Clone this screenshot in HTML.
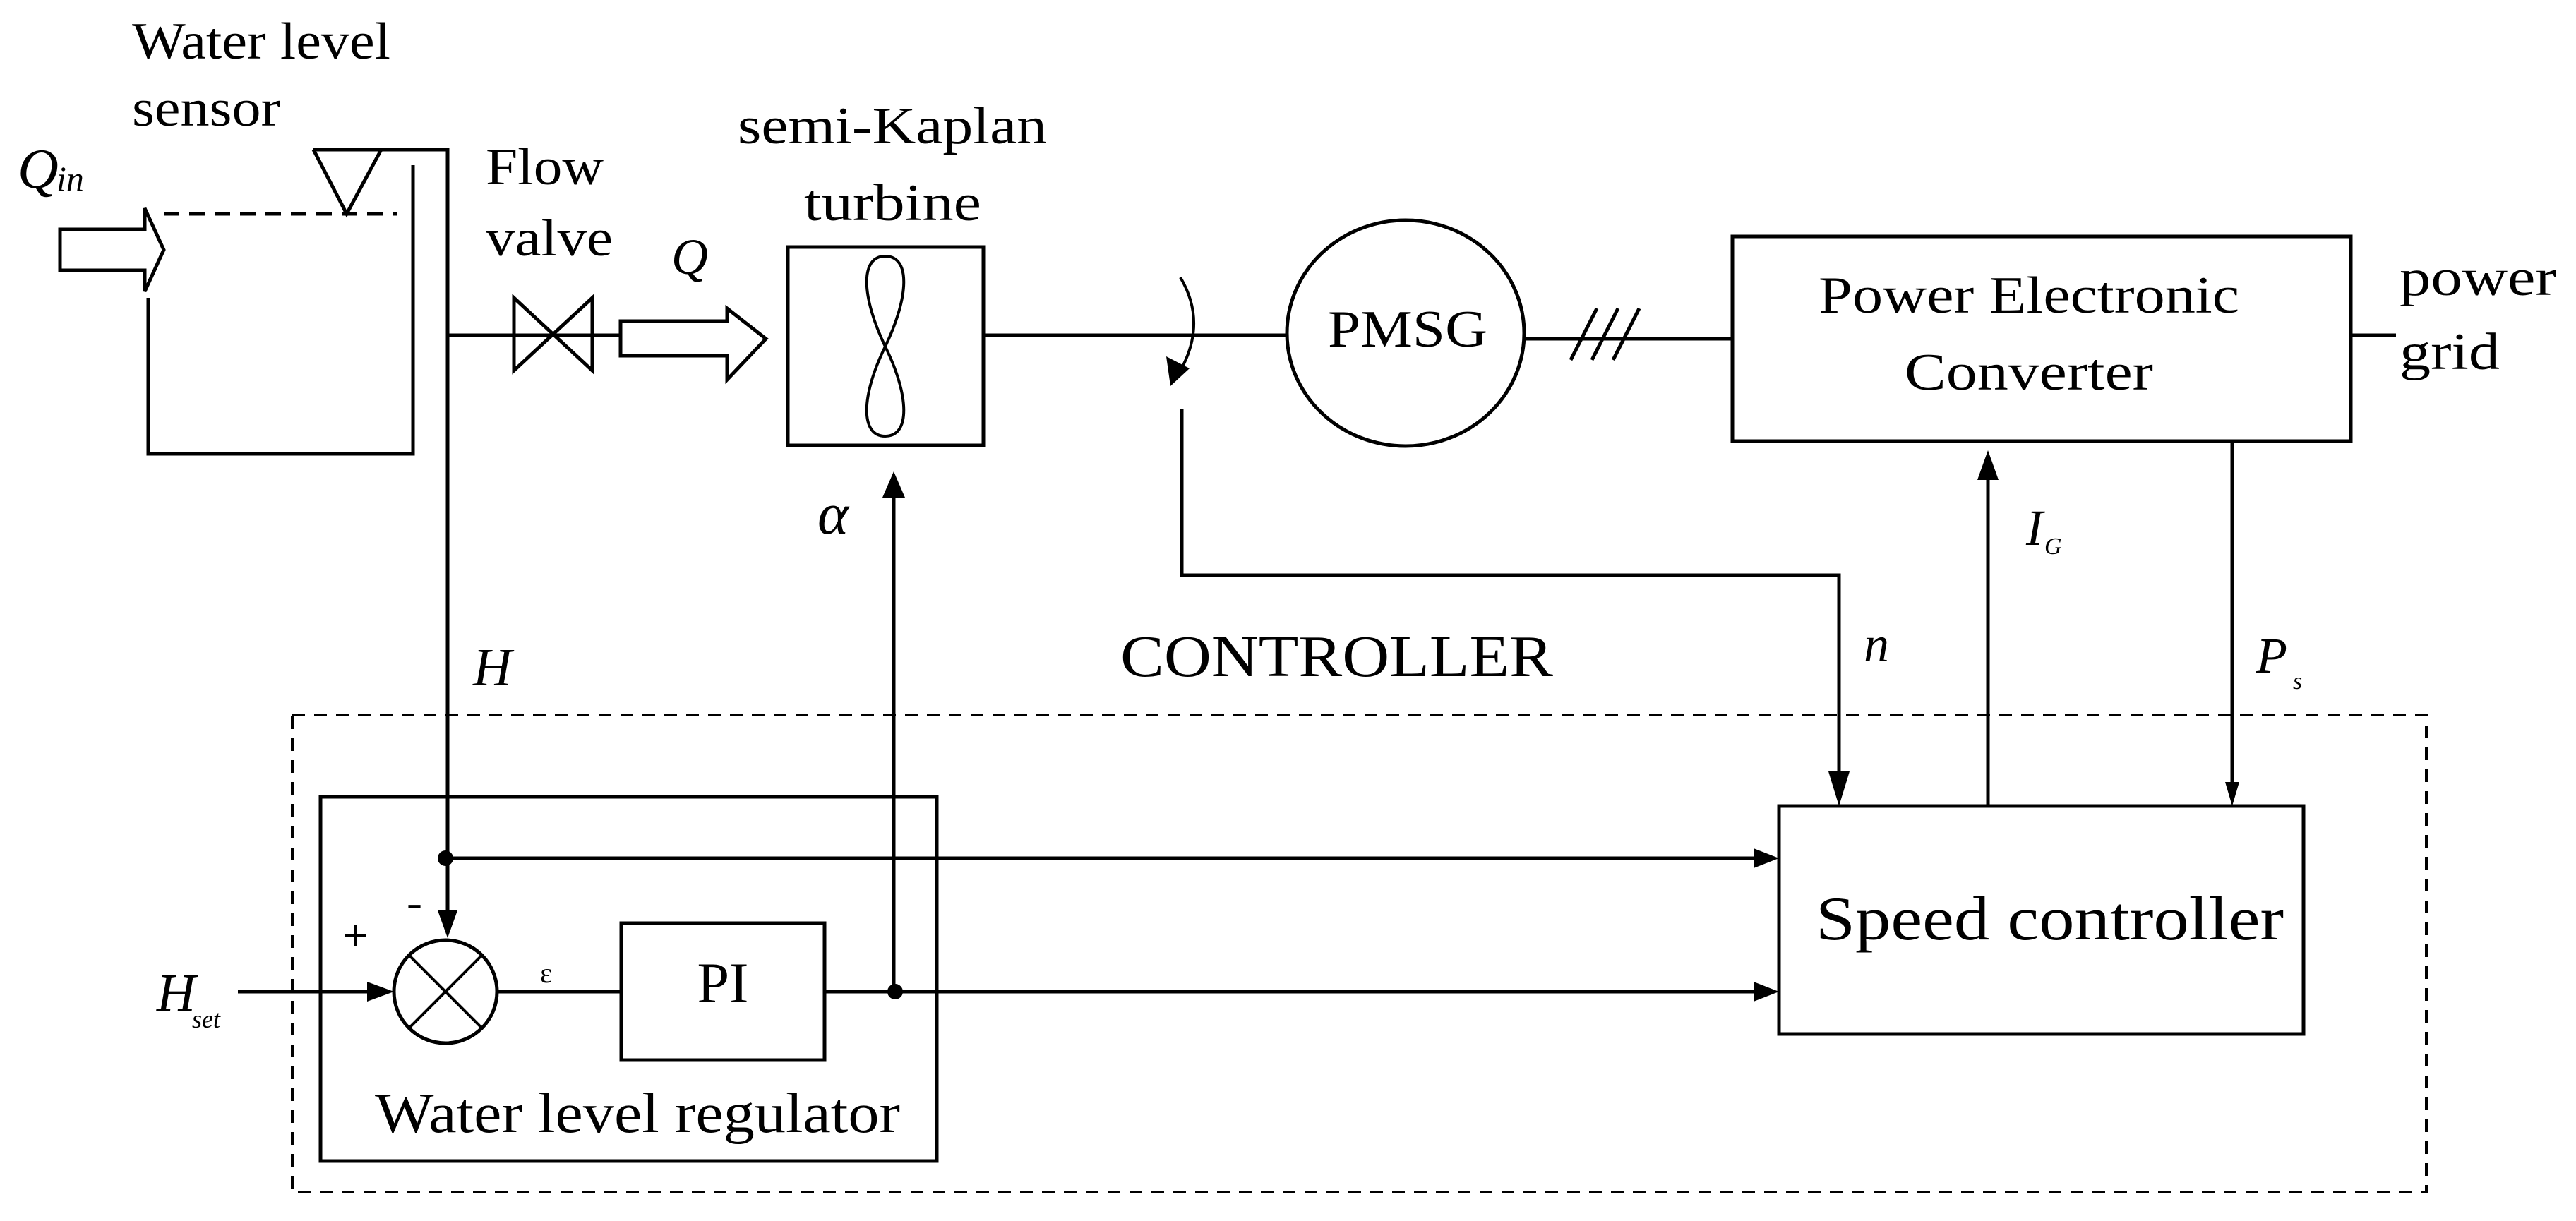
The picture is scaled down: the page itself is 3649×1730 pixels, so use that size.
<!DOCTYPE html>
<html><head><meta charset="utf-8"><style>
html,body{margin:0;padding:0;background:#fff;}
svg{display:block;}
text{font-family:"Liberation Serif",serif;fill:#000;}
.i{font-style:italic;}
</style></head><body>
<svg width="3649" height="1730" viewBox="0 0 3649 1730" xmlns="http://www.w3.org/2000/svg">
<defs>
<marker id="ah" markerWidth="10" markerHeight="10" refX="9" refY="5" orient="auto" markerUnits="userSpaceOnUse" viewBox="0 0 10 10"></marker>
</defs>
<g stroke="#000" stroke-width="5" fill="none">
<!-- Qin arrow -->
<path d="M85,325 H205 V295 L232,354 L205,413 V383 H85 Z"/>
<!-- tank -->
<path d="M210,422 V643 H585 V234"/>
<line x1="232" y1="303" x2="562" y2="303" stroke-dasharray="22 14"/>
<!-- sensor -->
<path d="M444,212 L491,303 L540,212"/>
<path d="M444,212 H634 V1294"/>
<!-- pipe -->
<line x1="634" y1="475" x2="879" y2="475"/>
<path d="M728,422 L839,525 V422 L728,525 Z"/>
<!-- Q arrow -->
<path d="M879,455 H1030 V437 L1085,480 L1030,538 V504 H879 Z"/>
<!-- turbine -->
<rect x="1116" y="350" width="277" height="281"/>
<path d="M1254,491 C1220,420 1218,363 1254,363 C1290,363 1288,420 1254,491 C1220,560 1218,618 1254,618 C1290,618 1288,560 1254,491 Z" stroke-width="4"/>
<!-- shaft -->
<line x1="1393" y1="475" x2="1823" y2="475"/>
<path d="M1672,393 Q1712,460 1668,532" stroke-width="4"/>
<ellipse cx="1991" cy="472" rx="168" ry="160"/>
<line x1="2160" y1="480" x2="2454" y2="480"/>
<line x1="2225" y1="510" x2="2262" y2="437"/>
<line x1="2255" y1="510" x2="2292" y2="437"/>
<line x1="2285" y1="510" x2="2322" y2="437"/>
<rect x="2454" y="335" width="876" height="290"/>
<line x1="3330" y1="475" x2="3394" y2="475"/>
<!-- feedback n -->
<path d="M1674,580 V815 H2605 V1100"/>
<!-- IG -->
<line x1="2816" y1="1142" x2="2816" y2="680"/>
<!-- Ps -->
<line x1="3162" y1="625" x2="3162" y2="1110"/>
<!-- controller dashed -->
<rect x="414" y="1013" width="3023" height="676" stroke-width="4" stroke-dasharray="18 13"/>
<rect x="454" y="1129" width="873" height="516"/>
<rect x="2520" y="1142" width="743" height="323"/>
<rect x="880" y="1308" width="288" height="194"/>
<circle cx="631" cy="1405" r="73"/>
<line x1="579" y1="1353" x2="683" y2="1457" stroke-width="4"/>
<line x1="683" y1="1353" x2="579" y2="1457" stroke-width="4"/>
<line x1="631" y1="1216" x2="2485" y2="1216"/>
<line x1="704" y1="1405" x2="880" y2="1405"/>
<line x1="1168" y1="1405" x2="2485" y2="1405"/>
<line x1="337" y1="1405" x2="525" y2="1405"/>
<line x1="1266" y1="1405" x2="1266" y2="700"/>
</g>
<g fill="#000">
<path d="M1658,547 L1652,505 L1685,522 Z"/>
<path d="M634,1329 L620,1290 L648,1290 Z"/>
<path d="M558,1405 L520,1391 L520,1419 Z"/>
<path d="M1266,668 L1250,705 L1282,705 Z"/>
<path d="M2605,1142 L2590,1093 L2620,1093 Z"/>
<path d="M2816,638 L2801,680 L2831,680 Z"/>
<path d="M3162,1142 L3152,1108 L3172,1108 Z"/>
<path d="M2520,1216 L2484,1202 L2484,1230 Z"/>
<path d="M2520,1405 L2484,1391 L2484,1419 Z"/>
<circle cx="631" cy="1216" r="11"/>
<circle cx="1268" cy="1405" r="11"/>
</g>
<g font-size="74">
<text x="187" y="83" textLength="366" lengthAdjust="spacingAndGlyphs">Water level</text>
<text x="187" y="178" textLength="210" lengthAdjust="spacingAndGlyphs">sensor</text>
<text class="i" x="25" y="266" font-size="80">Q</text>
<text class="i" x="80" y="270" font-size="50">in</text>
<text x="688" y="261" textLength="167" lengthAdjust="spacingAndGlyphs">Flow</text>
<text x="688" y="362" textLength="180" lengthAdjust="spacingAndGlyphs">valve</text>
<text class="i" x="951" y="388" font-size="72">Q</text>
<text x="1045" y="203" textLength="438" lengthAdjust="spacingAndGlyphs">semi-Kaplan</text>
<text x="1139" y="312" textLength="251" lengthAdjust="spacingAndGlyphs">turbine</text>
<text class="i" x="1158" y="756" font-size="84">α</text>
<text x="1881" y="491" textLength="226" lengthAdjust="spacingAndGlyphs">PMSG</text>
<text x="2576" y="443" textLength="596" lengthAdjust="spacingAndGlyphs">Power Electronic</text>
<text x="2698" y="552" textLength="352" lengthAdjust="spacingAndGlyphs">Converter</text>
<text x="3399" y="418" textLength="222" lengthAdjust="spacingAndGlyphs">power</text>
<text x="3399" y="523" textLength="142" lengthAdjust="spacingAndGlyphs">grid</text>
<text class="i" x="2870" y="772" font-size="72">I</text>
<text class="i" x="2896" y="785" font-size="34">G</text>
<text class="i" x="2640" y="937" font-size="72">n</text>
<text class="i" x="3196" y="953" font-size="72">P</text>
<text class="i" x="3248" y="976" font-size="34">s</text>
<text x="1587" y="958" textLength="613" lengthAdjust="spacingAndGlyphs" font-size="84">CONTROLLER</text>
<text class="i" x="670" y="971" font-size="76">H</text>
<text class="i" x="222" y="1432" font-size="76">H</text>
<text class="i" x="272" y="1456" font-size="36">set</text>
<text x="485" y="1347" font-size="66">+</text>
<text x="576" y="1300" font-size="66">-</text>
<text x="765" y="1392" font-size="40">ε</text>
<text x="1024" y="1420" font-size="82" text-anchor="middle">PI</text>
<text x="531" y="1604" textLength="744" lengthAdjust="spacingAndGlyphs" font-size="80">Water level regulator</text>
<text x="2572" y="1331" textLength="663" lengthAdjust="spacingAndGlyphs" font-size="88">Speed controller</text>
</g>
</svg>
</body></html>
